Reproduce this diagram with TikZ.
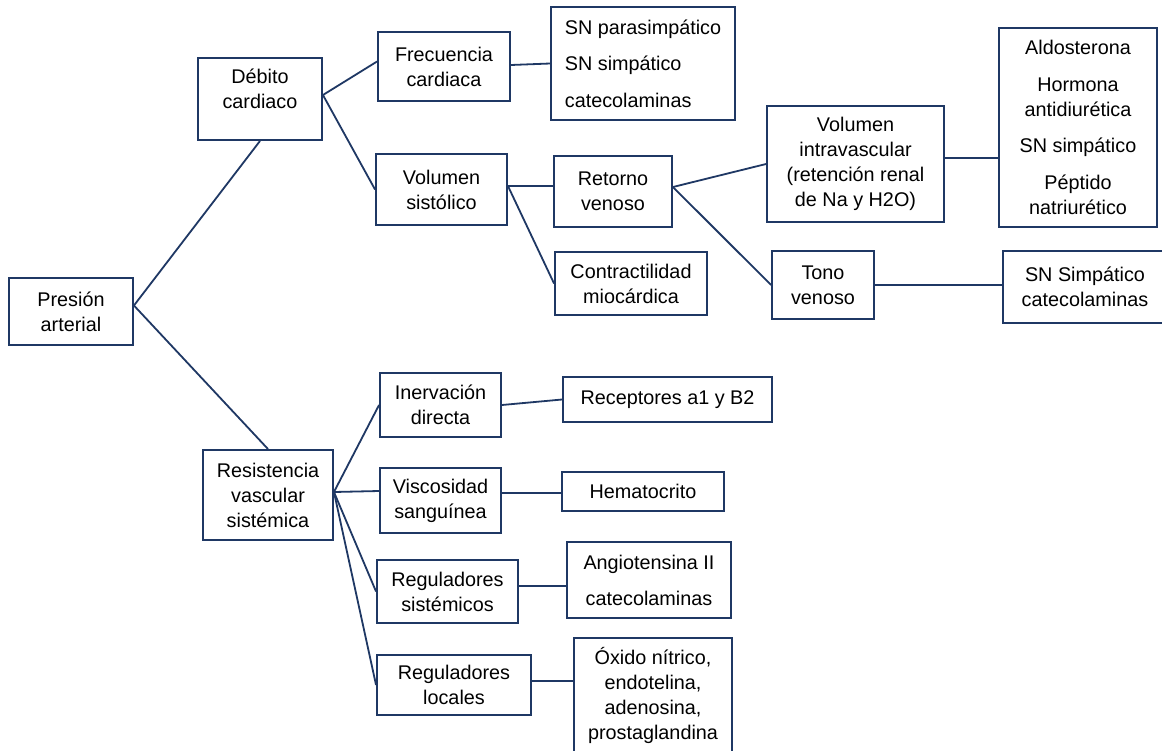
\documentclass[tikz,border=0pt]{standalone}
\usepackage{fontspec}
\setmainfont{Liberation Sans}
\definecolor{navy}{RGB}{31,56,100}
\tikzset{
  box/.style={draw=navy, line width=1.9pt, rectangle, inner sep=0pt, align=center,
              font=\fontsize{19.8}{25}\selectfont, text=black},
  conn/.style={draw=navy, line width=1.8pt},
  txt/.style={inner sep=0pt, align=center, font=\fontsize{19.8}{25}\selectfont, text=black}
}
\begin{document}
\begin{tikzpicture}[x=1pt,y=-1pt]
\useasboundingbox[fill=white] (0,0) rectangle (1162,750);

% boxes
\node[box, minimum width=124, minimum height=67] (pa) at (71,311.5) {Presión\\arterial};
\node[box, minimum width=124, minimum height=82] (deb) at (260,99) {};
\node[txt] (debt) at (260,89) {Débito\\cardiaco};
\node[box, minimum width=132, minimum height=69] (fc) at (444,66.5) {Frecuencia\\cardiaca};
\node[box, minimum width=184, minimum height=113, align=left] (sn1) at (643,63.5)
  {SN parasimpático\\[11.5pt]SN simpático\\[11.5pt]catecolaminas};
\node[box, minimum width=131, minimum height=71] (vs) at (441.5,189.5) {Volumen\\sistólico};
\node[box, minimum width=118, minimum height=71] (rv) at (613,191.5) {Retorno\\venoso};
\node[box, minimum width=152, minimum height=63] (cm) at (631,283.5) {Contractilidad\\miocárdica};
\node[box, minimum width=177, minimum height=116] (vi) at (855.5,164)
  {Volumen\\intravascular\\(retención renal\\de Na y H2O)};
\node[box, minimum width=158, minimum height=199] (ald) at (1078,127.5)
  {Aldosterona\\[11.5pt]Hormona\\antidiurética\\[11.5pt]SN simpático\\[11.5pt]Péptido\\natriurético};
\node[box, minimum width=102, minimum height=68] (tv) at (823,285) {Tono\\venoso};
\node[box, minimum width=164, minimum height=72] (sns) at (1085,287) {SN Simpático\\catecolaminas};

\node[box, minimum width=130, minimum height=90] (rvs) at (268,495) {Resistencia\\vascular\\sistémica};
\node[box, minimum width=121, minimum height=64] (id) at (440.5,405) {Inervación\\directa};
\node[box, minimum width=121, minimum height=65] (vsg) at (440.5,500.5) {Viscosidad\\sanguínea};
\node[box, minimum width=141, minimum height=63] (rs) at (447.5,591.5) {Reguladores\\sistémicos};
\node[box, minimum width=154, minimum height=60] (rl) at (454,685) {Reguladores\\locales};
\node[box, minimum width=209, minimum height=45] (rec) at (667.5,399.5) {Receptores a1 y B2};
\node[box, minimum width=162, minimum height=39] (hem) at (643,491.5) {Hematocrito};
\node[box, minimum width=164, minimum height=76] (ang) at (649,580) {Angiotensina II\\[11pt]catecolaminas};
\node[box, minimum width=158, minimum height=114] (ox) at (653,695)
  {Óxido nítrico,\\endotelina,\\adenosina,\\prostaglandina};

% connector points
\coordinate (paE) at ([yshift=6pt]pa.east);
\coordinate (debE) at ([yshift=4pt]deb.east);
\coordinate (vsE) at ([yshift=3.5pt]vs.east);
\coordinate (rvE) at ([yshift=4.5pt]rv.east);
\coordinate (viE) at ([yshift=6pt]vi.east);
\coordinate (fcE) at ([yshift=1.5pt]fc.east);
\coordinate (rvsE) at ([yshift=3pt]rvs.east);
\coordinate (vsgE) at ([yshift=7.5pt]vsg.east);
\coordinate (rsE) at ([yshift=5.5pt]rs.east);
\coordinate (rlE) at ([yshift=4pt]rl.east);

% connectors
\draw[conn] (paE) -- (deb.south);
\draw[conn] (paE) -- (rvs.north);
\draw[conn] (debE) -- ([yshift=5pt]fc.west);
\draw[conn] (debE) -- (vs.west);
\draw[conn] (fcE) -- (sn1.west);
\draw[conn] (vsE) -- (vsE -| rv.west);
\draw[conn] (vsE) -- (cm.west);
\draw[conn] (rvE) -- (vi.west);
\draw[conn] (rvE) -- (tv.west);
\draw[conn] (viE) -- (viE -| ald.west);
\draw[conn] (tv.east) -- (tv.east -| sns.west);
\draw[conn] (rvsE) -- (id.west);
\draw[conn] (rvsE) -- ([yshift=9.5pt]vsg.west);
\draw[conn] (rvsE) -- (rs.west);
\draw[conn] (rvsE) -- (rl.west);
\draw[conn] (id.east) -- (rec.west);
\draw[conn] (vsgE) -- (vsgE -| hem.west);
\draw[conn] (rsE) -- (rsE -| ang.west);
\draw[conn] (rlE) -- (rlE -| ox.west);
\end{tikzpicture}
\end{document}
